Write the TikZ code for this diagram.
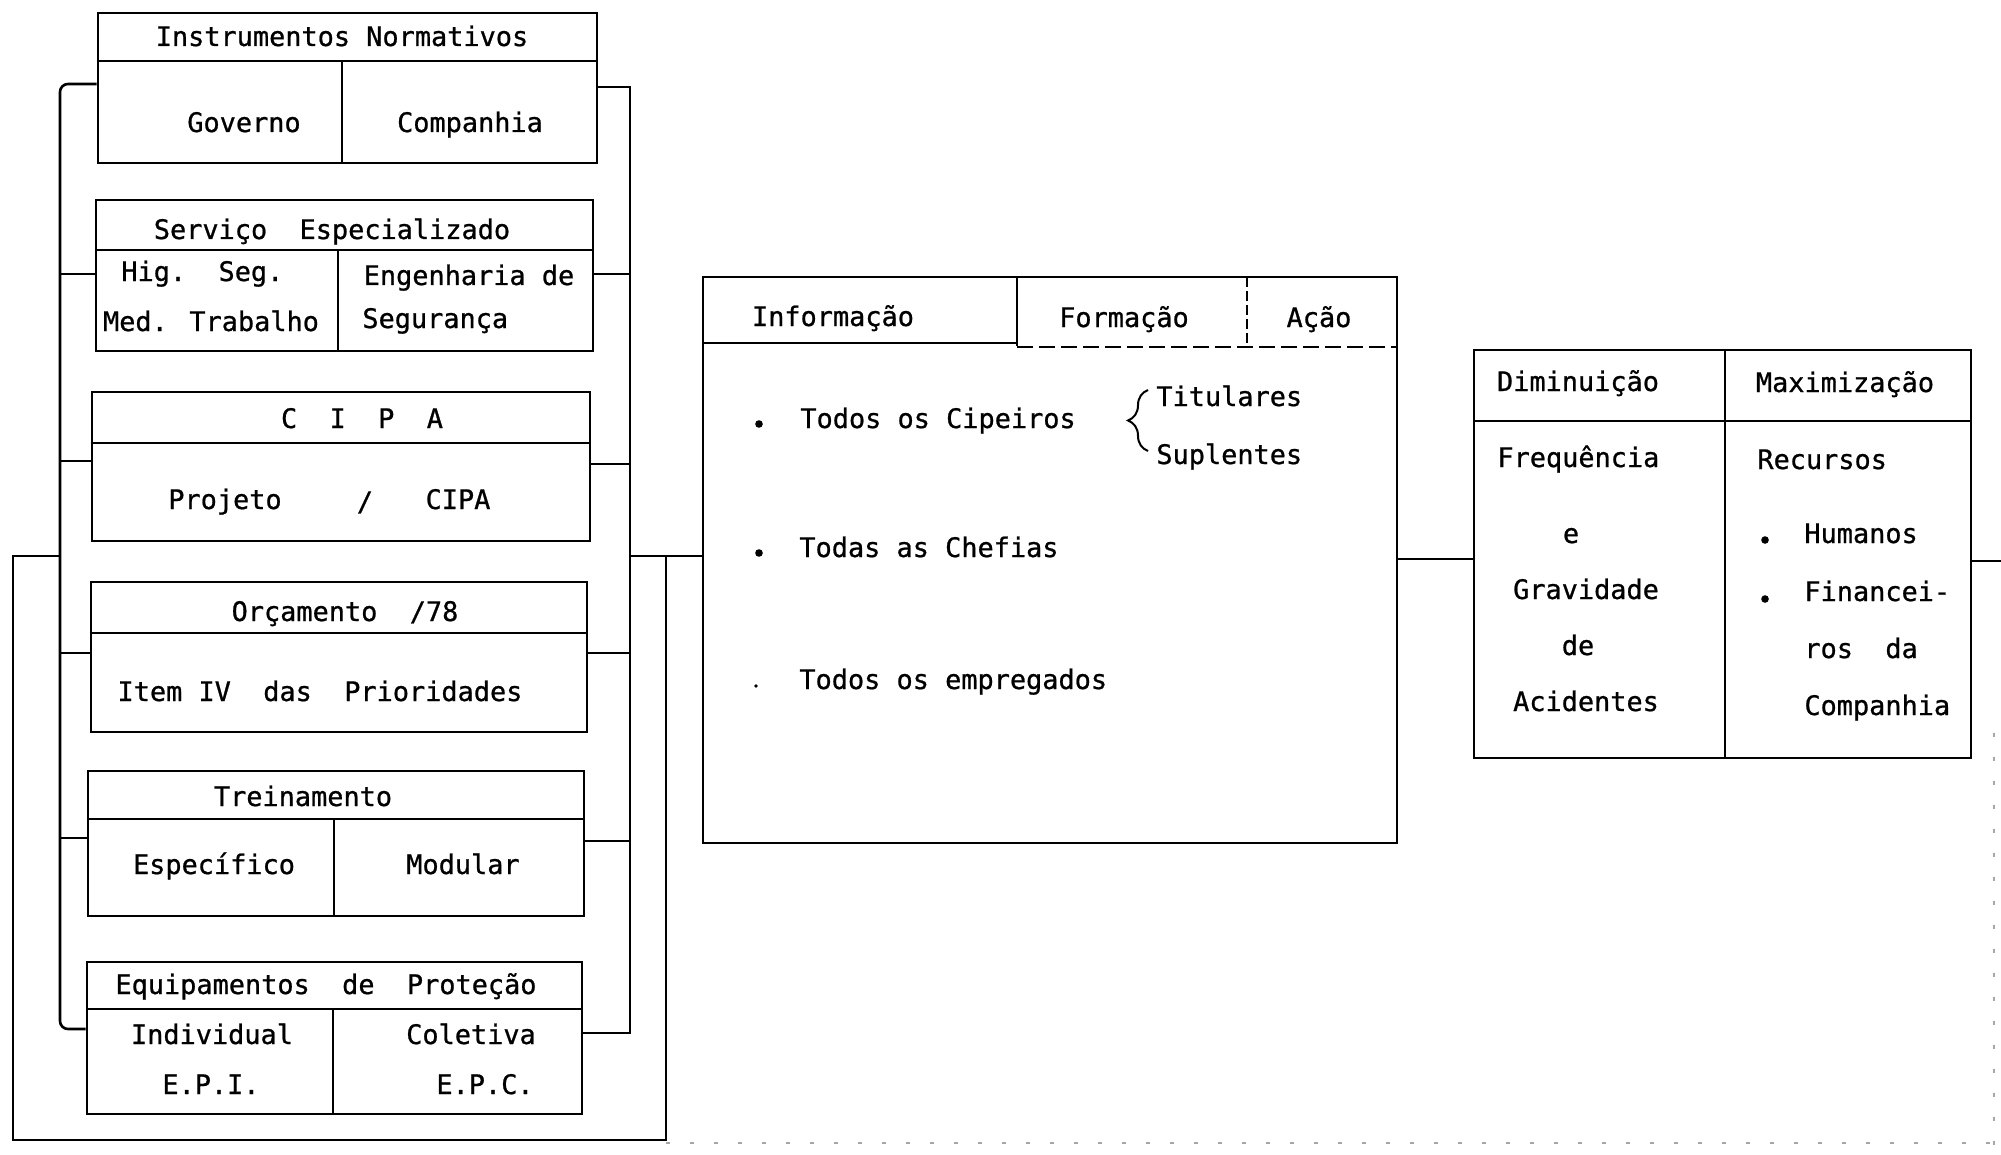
\documentclass[tikz,border=0pt]{standalone}
\usepackage{fontspec}
\newfontfamily\twfont[FakeBold=0.8]{DejaVu Sans Mono}
\usetikzlibrary{fit,decorations.pathreplacing}
\newcommand{\mkbox}[6][]{\coordinate (#2-a) at (#3,#4); \coordinate (#2-b) at (#5,#6); \node[box,#1, fit=(#2-a)(#2-b)] (#2) {};}
\begin{document}
\begin{tikzpicture}[x=0.5pt,y=-0.5pt,
  box/.style={draw, line width=1.3pt, inner sep=0pt},
  ln/.style={line width=1.3pt},
  thinln/.style={line width=0.8pt},
  conn/.style={line width=1.3pt},
  faint/.style={line width=0.6pt, gray!70, dash pattern=on 2pt off 10pt},
  txt/.style={inner sep=0pt, text height=8pt, text depth=0pt, font=\twfont\fontsize{13.45pt}{16pt}\selectfont},
  dotb/.style={circle, fill=black, inner sep=0pt, minimum size=3.8pt}]
\useasboundingbox (0,0) rectangle (2001,1155);
\fill[white] (0,0) rectangle (2001,1155);

% ---- left boxes
\mkbox{b1}{98}{13}{597}{163}
\draw[ln] (b1.west |- 0,61) -- (b1.east |- 0,61);
\draw[ln] (342,61) -- (342,163);
\mkbox{b2}{96}{200}{593}{351}
\draw[ln] (b2.west |- 0,250) -- (b2.east |- 0,250);
\draw[ln] (338,250) -- (338,351);
\mkbox{b3}{92}{392}{590}{541}
\draw[ln] (b3.west |- 0,443) -- (b3.east |- 0,443);
\mkbox{b4}{91}{582}{587}{732}
\draw[ln] (b4.west |- 0,633) -- (b4.east |- 0,633);
\mkbox{b5}{88}{771}{584}{916}
\draw[ln] (b5.west |- 0,819) -- (b5.east |- 0,819);
\draw[ln] (334,819) -- (334,916);
\mkbox{b6}{87}{962}{582}{1114}
\draw[ln] (b6.west |- 0,1009) -- (b6.east |- 0,1009);
\draw[ln] (333,1009) -- (333,1114);

% ---- central box
\mkbox{cen}{703}{277}{1397}{843}
\draw[ln] (cen.west |- 0,343) -- (1017,343);
\draw[ln] (1017,277) -- (1017,346);
\draw[thinln, dash pattern=on 8pt off 3pt] (1017,347) -- (cen.east |- 0,347);
\draw[thinln, dash pattern=on 5pt off 2pt] (1247,277) -- (1247,347);

% ---- right box
\mkbox[line width=0.9pt]{rb}{1474}{350}{1971}{758}
\draw[thinln] (rb.west |- 0,421) -- (rb.east |- 0,421);
\draw[thinln] (1725,350) -- (1725,758);

% ---- connectors
\coordinate (lbT) at (60,84);
\coordinate (lbB) at (60,1029);
\draw[conn, rounded corners=4pt] (b1.west |- lbT) -- (lbT) -- (lbB) -- (b6.west |- lbB);
\draw[conn] (b2.west |- 0,274) -- (60,274);
\draw[conn] (b3.west |- 0,461) -- (60,461);
\draw[conn] (b4.west |- 0,653) -- (60,653);
\draw[conn] (b5.west |- 0,838) -- (60,838);

\coordinate (rbT) at (630,87);
\coordinate (rbB) at (630,1033);
\draw[conn] (b1.east |- rbT) -- (rbT) -- (rbB) -- (b6.east |- rbB);
\draw[conn] (b2.east |- 0,274) -- (630,274);
\draw[conn] (b3.east |- 0,464) -- (630,464);
\draw[conn] (b4.east |- 0,653) -- (630,653);
\draw[conn] (b5.east |- 0,841) -- (630,841);

\coordinate (jL) at (630,556);
\coordinate (jM) at (666,556);
\draw[conn] (jL) -- (cen.west |- jL);
\draw[conn] (60,556) -- (13,556) -- (13,1140) -- (666,1140) -- (jM);
\draw[faint] (666,1143) -- (1994,1143);
\draw[faint] (1994,733) -- (1994,1155);

\draw[conn] (cen.east |- 0,559) -- (rb.west |- 0,559);
\coordinate (rEnd) at (2001,561);
\draw[conn] (rb.east |- rEnd) -- (rEnd);

% ---- texts left
\node[txt] (t1) at (342,38) {Instrumentos Normativos};
\node[txt] (t2) at (244,124) {Governo};
\node[txt] (t3) at (470,124) {Companhia};
\node[txt] (t4) at (332,231) {Serviço\ \ Especializado};
\node[txt, anchor=west] (t5) at (121,273) {Hig.\ \ Seg.};
\node[txt] (t6) at (211,323) {Med. Trabalho};
\node[txt] (t7) at (469,277) {Engenharia de};
\node[txt, anchor=west] (t8) at (362,320) {Segurança};
\node[txt] (t9) at (362,420) {C\ \ I\ \ P\ \ A};
\node[txt] (t10) at (225,501) {Projeto};
\node[txt] (t11) at (365,503) {/};
\node[txt] (t12) at (458,501) {CIPA};
\node[txt] (t13) at (345,613) {Orçamento\ \ /78};
\node[txt] (t14) at (320,693) {Item IV\ \ das\ \ Prioridades};
\node[txt] (t15) at (303,798) {Treinamento};
\node[txt] (t16) at (214,866) {Específico};
\node[txt] (t17) at (463,866) {Modular};
\node[txt] (t18) at (326,986) {Equipamentos\ \ de\ \ Proteção};
\node[txt] (t19) at (212,1036) {Individual};
\node[txt] (t20) at (211,1086) {E.P.I.};
\node[txt] (t21) at (471,1036) {Coletiva};
\node[txt] (t22) at (485,1086) {E.P.C.};

% ---- texts central
\node[txt] (c1) at (833,318) {Informação};
\node[txt] (c2) at (1124,319) {Formação};
\node[txt] (c3) at (1319,319) {Ação};
\node[dotb] (d1) at (759,424) {};
\node[dotb] (d2) at (759,553) {};
\node[dotb, minimum size=1.8pt] (d3) at (756,686) {};
\node[txt, anchor=west] (c4) at (800,420) {Todos os Cipeiros};
\node[txt, anchor=west] (c5) at (799,549) {Todas as Chefias};
\node[txt, anchor=west] (c6) at (799,681) {Todos os empregados};
\draw[line width=1pt, decorate, decoration={brace, amplitude=10pt}] (1148,451) -- (1148,390);
\node[txt, anchor=west] (c7) at (1156,398) {Titulares};
\node[txt, anchor=west] (c8) at (1156,456) {Suplentes};

% ---- texts right
\node[txt] (r1) at (1578,383) {Diminuição};
\node[txt] (r2) at (1845,384) {Maximização};
\node[txt, anchor=west] (r3) at (1497,459) {Frequência};
\node[txt] (r4) at (1571,535) {e};
\node[txt] (r5) at (1586,591) {Gravidade};
\node[txt] (r6) at (1578,647) {de};
\node[txt] (r7) at (1586,703) {Acidentes};
\node[txt, anchor=west] (r8) at (1757,461) {Recursos};
\node[dotb] (d4) at (1765,540) {};
\node[dotb] (d5) at (1765,599) {};
\node[txt, anchor=west] (r9) at (1804,535) {Humanos};
\node[txt, anchor=west] (r10) at (1804,593) {Financei-};
\node[txt, anchor=west] (r11) at (1804,650) {ros\ \ da};
\node[txt, anchor=west] (r12) at (1804,707) {Companhia};
\end{tikzpicture}
\end{document}
